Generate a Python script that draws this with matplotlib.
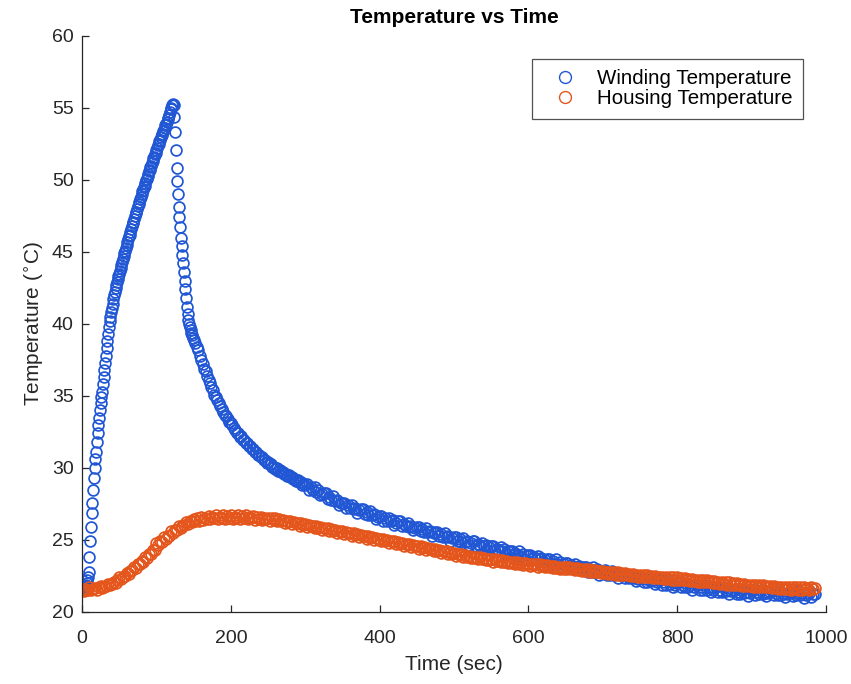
import matplotlib
matplotlib.use("Agg")
import matplotlib.pyplot as plt

plt.rcParams['font.family'] = ['Liberation Sans', 'DejaVu Sans']

# winding temperature: 1 s samples to 150 s, 2 s to 300 s, 2.5 s after
t_wind = (list(range(0, 151)) + list(range(152, 301, 2))
          + [302.5 + 2.5 * i for i in range(274)])
wind = [
    21.5, 21.6, 21.5, 21.7, 21.8, 21.9, 22.0, 22.2, 22.4, 22.8,
    23.8, 24.9, 25.9, 26.9, 27.6, 28.5, 29.3, 30.0, 30.6, 31.1,
    31.8, 32.4, 33.0, 33.5, 34.0, 34.5, 34.9, 35.3, 35.8, 36.3,
    36.8, 37.3, 37.8, 38.3, 38.8, 39.3, 39.8, 40.2, 40.5, 40.8,
    41.1, 41.4, 41.7, 42.0, 42.2, 42.5, 42.7, 42.9, 43.1, 43.3,
    43.5, 43.7, 43.9, 44.1, 44.3, 44.5, 44.7, 44.9, 45.1, 45.3,
    45.5, 45.7, 45.9, 46.1, 46.2, 46.4, 46.6, 46.8, 47.0, 47.1,
    47.3, 47.5, 47.7, 47.8, 48.0, 48.2, 48.3, 48.5, 48.7, 48.8,
    49.0, 49.2, 49.3, 49.5, 49.6, 49.8, 50.0, 50.1, 50.3, 50.4,
    50.6, 50.7, 50.9, 51.0, 51.2, 51.3, 51.5, 51.6, 51.8, 51.9,
    52.1, 52.2, 52.4, 52.5, 52.7, 52.8, 53.0, 53.1, 53.2, 53.4,
    53.5, 53.6, 53.8, 53.9, 54.0, 54.2, 54.3, 54.5, 54.7, 54.9,
    55.0, 55.2, 55.3, 55.2, 54.4, 53.3, 52.1, 50.8, 49.9, 49.0,
    48.1, 47.4, 46.7, 46.0, 45.4, 44.8, 44.2, 43.6, 43.0, 42.4,
    41.8, 41.2, 40.7, 40.3, 40.0, 39.8, 39.6, 39.4, 39.2, 39.0,
    38.9,
    # 152 .. 300
    38.7, 38.4, 38.2, 37.8, 37.5, 37.2, 36.9, 36.7, 36.4, 36.1,
    35.9, 35.6, 35.4, 35.1, 34.9, 34.7, 34.5, 34.3, 34.1, 33.9,
    33.7, 33.6, 33.4, 33.2, 33.1, 32.95, 32.75, 32.65, 32.45, 32.45,
    32.15, 32.2, 31.95, 31.95, 31.75, 31.75, 31.5, 31.5, 31.3, 31.3,
    31.1, 31.1, 30.9, 30.9, 30.75, 30.75, 30.55, 30.55, 30.35, 30.4,
    30.25, 30.25, 30.1, 30.1, 29.95, 30.0, 29.8, 29.85, 29.7, 29.75,
    29.55, 29.6, 29.45, 29.5, 29.35, 29.35, 29.2, 29.25, 29.1, 29.15,
    29.0, 29.05, 28.85, 28.9, 28.8,
    # 302.5 .. 985
    28.9, 28.5, 28.65, 28.45, 28.7, 28.35, 28.45, 28.1, 28.2, 28.25,
    28.25, 27.85, 28.0, 27.8, 28.05, 27.7, 27.8, 27.45, 27.55, 27.6,
    27.6, 27.25, 27.4, 27.2, 27.45, 27.15, 27.25, 26.9, 27.05, 27.15,
    27.15, 26.8, 26.95, 26.75, 27.0, 26.7, 26.8, 26.45, 26.6, 26.65,
    26.65, 26.35, 26.5, 26.3, 26.55, 26.3, 26.4, 26.05, 26.2, 26.3,
    26.3, 25.95, 26.1, 25.95, 26.2, 25.9, 26.0, 25.7, 25.85, 25.9,
    25.9, 25.6, 25.75, 25.55, 25.85, 25.55, 25.65, 25.3, 25.5, 25.55,
    25.55, 25.25, 25.4, 25.2, 25.5, 25.2, 25.3, 24.95, 25.15, 25.2,
    25.2, 24.9, 25.05, 24.85, 25.15, 24.85, 24.95, 24.65, 24.8, 24.9,
    24.9, 24.55, 24.75, 24.55, 24.8, 24.55, 24.65, 24.3, 24.5, 24.55,
    24.55, 24.25, 24.4, 24.25, 24.5, 24.2, 24.35, 24.0, 24.2, 24.25,
    24.25, 23.95, 24.1, 23.95, 24.2, 23.9, 24.05, 23.7, 23.9, 23.95,
    23.95, 23.65, 23.8, 23.65, 23.9, 23.65, 23.75, 23.45, 23.6, 23.7,
    23.7, 23.35, 23.55, 23.35, 23.65, 23.35, 23.5, 23.15, 23.35, 23.4,
    23.4, 23.1, 23.25, 23.1, 23.35, 23.1, 23.2, 22.9, 23.05, 23.15,
    23.15, 22.8, 23.0, 22.8, 23.1, 22.8, 22.95, 22.6, 22.8, 22.85,
    22.9, 22.55, 22.75, 22.55, 22.85, 22.55, 22.7, 22.35, 22.55, 22.65,
    22.65, 22.35, 22.5, 22.35, 22.6, 22.35, 22.45, 22.15, 22.3, 22.4,
    22.45, 22.1, 22.3, 22.1, 22.4, 22.15, 22.25, 21.95, 22.1, 22.2,
    22.25, 21.9, 22.1, 21.9, 22.2, 21.95, 22.05, 21.75, 21.9, 22.0,
    22.05, 21.7, 21.9, 21.75, 22.0, 21.75, 21.9, 21.55, 21.75, 21.85,
    21.85, 21.55, 21.7, 21.55, 21.85, 21.55, 21.7, 21.4, 21.55, 21.65,
    21.7, 21.4, 21.55, 21.4, 21.7, 21.45, 21.55, 21.25, 21.45, 21.55,
    21.55, 21.25, 21.4, 21.25, 21.55, 21.3, 21.4, 21.1, 21.3, 21.45,
    21.5, 21.2, 21.4, 21.25, 21.5, 21.25, 21.4, 21.1, 21.3, 21.4,
    21.45, 21.15, 21.3, 21.15, 21.45, 21.2, 21.35, 21.05, 21.25, 21.35,
    21.4, 21.1, 21.3, 21.15, 21.45, 21.2, 21.3, 21.0, 21.2, 21.3,
    21.35, 21.05, 21.25, 21.25,
]

# housing temperature, every 2.5 s
t_house = [2.5 * i for i in range(395)]
house = [
    21.6, 21.45, 21.55, 21.5, 21.7, 21.5, 21.6, 21.65, 21.55, 21.7,
    21.8, 21.65, 21.75, 21.8, 21.95, 21.85, 21.95, 22.1, 22.0, 22.2,
    22.45, 22.3, 22.45, 22.5, 22.7, 22.65, 22.85, 22.9, 23.1, 23.05,
    23.3, 23.3, 23.55, 23.5, 23.8, 23.75, 24.05, 24.0, 24.3, 24.3,
    24.8, 24.65, 24.9, 24.85, 25.2, 25.05, 25.3, 25.3, 25.65, 25.5,
    25.7, 25.7, 26.0, 25.85, 26.0, 26.05, 26.25, 26.1, 26.3, 26.25,
    26.45, 26.3, 26.5, 26.35, 26.6, 26.4, 26.55, 26.45, 26.65, 26.45,
    26.6, 26.5, 26.7, 26.45, 26.6, 26.55, 26.7, 26.45, 26.65, 26.5,
    26.7, 26.45, 26.6, 26.55, 26.7, 26.45, 26.65, 26.5, 26.7, 26.45,
    26.6, 26.5, 26.65, 26.4, 26.6, 26.45, 26.6, 26.4, 26.55, 26.45,
    26.55, 26.35, 26.5, 26.4, 26.5, 26.3, 26.45, 26.35, 26.4, 26.2,
    26.35, 26.25, 26.3, 26.1, 26.25, 26.15, 26.2, 26.0, 26.15, 26.05,
    26.1, 25.9, 26.05, 25.95, 26.0, 25.8, 25.95, 25.85, 25.9, 25.7,
    25.85, 25.75, 25.8, 25.6, 25.75, 25.65, 25.7, 25.5, 25.65, 25.55,
    25.6, 25.4, 25.55, 25.45, 25.5, 25.3, 25.45, 25.35, 25.4, 25.2,
    25.35, 25.25, 25.3, 25.1, 25.25, 25.15, 25.2, 25.0, 25.15, 25.05,
    25.1, 24.9, 25.05, 24.95, 25.0, 24.8, 24.95, 24.85, 24.9, 24.7,
    24.85, 24.75, 24.8, 24.6, 24.75, 24.65, 24.7, 24.5, 24.65, 24.55,
    24.6, 24.4, 24.55, 24.45, 24.5, 24.3, 24.45, 24.35, 24.4, 24.2,
    24.35, 24.25, 24.3, 24.1, 24.25, 24.15, 24.2, 24.0, 24.15, 24.05,
    24.1, 23.9, 24.05, 23.95, 24.0, 23.8, 23.95, 23.85, 23.9, 23.75,
    23.85, 23.75, 23.8, 23.65, 23.8, 23.65, 23.75, 23.6, 23.7, 23.6,
    23.7, 23.5, 23.65, 23.55, 23.6, 23.45, 23.6, 23.45, 23.55, 23.4,
    23.5, 23.4, 23.5, 23.3, 23.45, 23.35, 23.4, 23.25, 23.4, 23.3,
    23.35, 23.2, 23.35, 23.25, 23.3, 23.15, 23.3, 23.2, 23.25, 23.1,
    23.25, 23.1, 23.2, 23.05, 23.2, 23.05, 23.15, 23.0, 23.15, 23.0,
    23.1, 22.95, 23.1, 22.95, 23.05, 22.9, 23.05, 22.9, 23.0, 22.85,
    22.95, 22.85, 22.95, 22.8, 22.9, 22.75, 22.9, 22.75, 22.85, 22.7,
    22.85, 22.7, 22.8, 22.65, 22.8, 22.65, 22.75, 22.6, 22.75, 22.6,
    22.7, 22.55, 22.7, 22.55, 22.65, 22.5, 22.65, 22.5, 22.6, 22.45,
    22.6, 22.45, 22.55, 22.4, 22.55, 22.4, 22.5, 22.35, 22.5, 22.35,
    22.45, 22.35, 22.45, 22.3, 22.45, 22.3, 22.4, 22.25, 22.4, 22.25,
    22.4, 22.25, 22.35, 22.2, 22.35, 22.2, 22.3, 22.15, 22.3, 22.15,
    22.25, 22.1, 22.25, 22.1, 22.2, 22.05, 22.2, 22.05, 22.15, 22.0,
    22.15, 22.0, 22.1, 21.95, 22.1, 21.95, 22.05, 21.9, 22.05, 21.9,
    22.0, 21.85, 22.0, 21.85, 21.95, 21.8, 21.95, 21.8, 21.9, 21.8,
    21.9, 21.75, 21.9, 21.75, 21.85, 21.7, 21.85, 21.7, 21.8, 21.7,
    21.8, 21.65, 21.8, 21.65, 21.75, 21.6, 21.75, 21.6, 21.75, 21.6,
    21.75, 21.55, 21.7, 21.6, 21.7, 21.55, 21.7, 21.55, 21.7, 21.6,
    21.65, 21.55, 21.7, 21.6, 21.65,
]

blue = '#2157d4'
orange = '#e4561c'

fig = plt.figure(figsize=(8.51, 6.84), dpi=100)
ax = fig.add_axes([0.0964, 0.1053, 0.8742, 0.8421])

ax.plot(t_wind, wind, 'o', mfc='none', mec=blue, ms=7.8, mew=1.25,
        label='Winding Temperature')
ax.plot(t_house, house, 'o', mfc='none', mec=orange, ms=7.8, mew=1.25,
        label='Housing Temperature')

ax.set_xlim(0, 1000)
ax.set_ylim(20, 60)
ax.set_xticks([0, 200, 400, 600, 800, 1000])
ax.set_yticks([20, 25, 30, 35, 40, 45, 50, 55, 60])

for s in ['top', 'right']:
    ax.spines[s].set_visible(False)
for s in ['left', 'bottom']:
    ax.spines[s].set_color('#262626')
    ax.spines[s].set_linewidth(0.9)
ax.tick_params(direction='in', length=5, width=0.9, colors='#262626',
               labelsize=14, labelcolor='#262626', pad=6)
ax.tick_params(axis='x', pad=13)

ax.set_title('Temperature vs Time', fontsize=15, fontweight='bold', pad=9)
ax.set_xlabel('Time (sec)', fontsize=15, color='#262626', labelpad=6)
ax.set_ylabel('Temperature ($^{\\circ}$C)', fontsize=15, color='#262626')

leg = ax.legend(loc='upper right', bbox_to_anchor=(0.969, 0.960),
                borderaxespad=0, fontsize=14.8, frameon=True, fancybox=False,
                edgecolor='#262626', markerscale=1.1, handlelength=2.2,
                handletextpad=0.45, borderpad=0.5, labelspacing=0.05)
leg.get_frame().set_linewidth(0.9)
for h in leg.legend_handles:
    h.set_markeredgewidth(1.0)

fig.savefig('out.png', dpi=100)
